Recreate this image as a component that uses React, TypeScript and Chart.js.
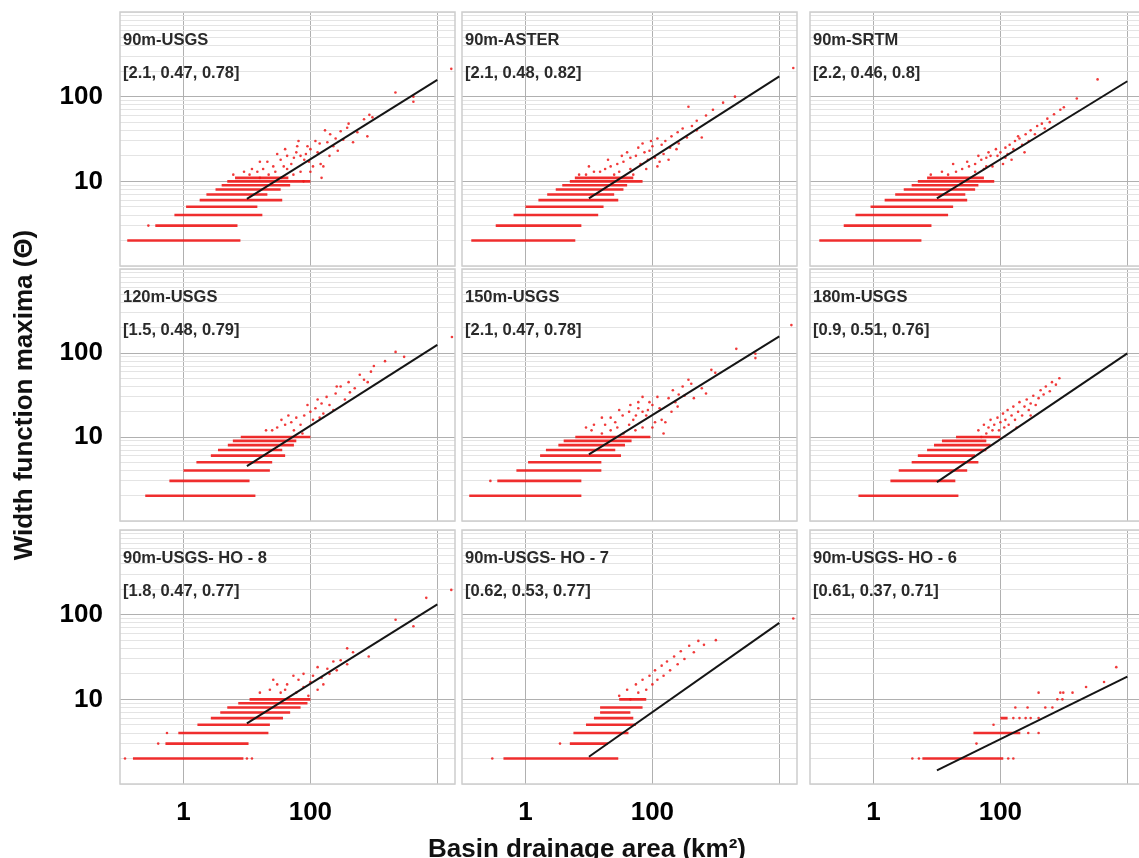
import React, { useEffect, useRef } from 'react';
import { Chart, registerables } from 'chart.js';

Chart.register(...registerables);

type Streak = [number, number, number]; // [y, xStart, xEnd]
type Pt = [number, number]; // [x, y]

const FONT = "'Liberation Sans', Arial, sans-serif";

const panelNames = ['90m-USGS', '90m-ASTER', '90m-SRTM', '120m-USGS', '150m-USGS', '180m-USGS', '90m-USGS- HO - 8', '90m-USGS- HO - 7', '90m-USGS- HO - 6'];
const panelParams = ['[2.1, 0.47, 0.78]', '[2.1, 0.48, 0.82]', '[2.2, 0.46, 0.8]', '[1.5, 0.48, 0.79]', '[2.1, 0.47, 0.78]', '[0.9, 0.51, 0.76]', '[1.8, 0.47, 0.77]', '[0.62, 0.53, 0.77]', '[0.61, 0.37, 0.71]'];

const fitX = [10, 10000];
const fitStartY = [6.2, 6.3, 6.3, 4.5, 6.2, 2.9, 5.2, 2.1, 1.45];
const fitEndY = [158, 174, 152, 125, 158, 99, 132, 80, 18.5];

const xTickValues = [1, 100, 10000];
const xTickLabels = ['1', '100', ''];
const yGridValues = [1, 2, 3, 4, 5, 6, 7, 8, 9, 10, 20, 30, 40, 50, 60, 70, 80, 90, 100, 200, 300, 400, 500, 600, 700, 800, 900, 1000];
const yLabelValues = [10, 100];
const yLabelTexts = ['10', '100'];

const streaksUsgs90: Streak[] = [[2, 0.13, 7.9], [3, 0.36, 7.1], [4, 0.72, 17.5], [5, 1.1, 14.6], [6, 1.8, 36], [7, 2.3, 21], [8, 3.2, 34], [9, 4.0, 48], [10, 4.9, 100], [11, 6.5, 45]];
const pointsUsgs90: Pt[] = [[0.28, 3], [16600, 213], [2190, 112], [4200, 100], [4200, 87], [850, 61], [950, 57], [700, 54], [400, 48], [380, 43], [550, 38], [790, 34], [300, 39], [170, 40], [330, 31], [205, 36], [470, 29], [230, 26], [185, 29], [250, 32], [120, 30], [65, 30], [90, 26], [62, 26], [100, 24], [40, 24], [130, 22], [60, 22], [270, 23], [70, 20], [43, 20], [200, 20], [34, 18], [80, 18], [21, 17], [16, 17], [145, 16], [160, 15], [110, 15], [26, 15], [50, 16], [43, 14], [18, 14], [12, 14], [70, 13], [100, 13], [14.6, 13], [9, 13], [28, 13], [6.1, 12], [22, 12], [11, 12], [54, 12], [150, 11], [35, 11], [16, 11], [78, 10], [30, 21], [55, 19], [85, 21], [140, 28], [95, 17], [38, 15]];

const streaksAster90: Streak[] = [[2, 0.14, 6.1], [3, 0.34, 7.6], [4, 0.65, 14], [5, 1.0, 17], [6, 1.6, 29], [7, 2.2, 25], [8, 3.0, 35], [9, 3.8, 40], [10, 5, 70], [11, 6, 50]];
const pointsAster90: Pt[] = [[16600, 218], [370, 76], [2000, 100], [1300, 85], [900, 70], [700, 60], [500, 52], [420, 45], [300, 42], [250, 38], [200, 34], [350, 33], [160, 30], [140, 27], [120, 32], [100, 26], [90, 23], [75, 22], [60, 25], [55, 20], [45, 19], [40, 22], [35, 17], [28, 16], [22, 15], [18, 14], [15, 13], [12, 13], [9, 12], [30, 13], [45, 14], [65, 16], [85, 18], [110, 19], [150, 21], [190, 25], [260, 28], [500, 40], [600, 33], [80, 14], [120, 15], [25, 12], [50, 12], [7, 12], [10, 15], [20, 18], [180, 18], [240, 24], [70, 28], [130, 17], [33, 20], [95, 30]];

const streaksSrtm90: Streak[] = [[2, 0.14, 5.7], [3, 0.34, 8.2], [4, 0.52, 15], [5, 0.9, 18], [6, 1.5, 30], [7, 2.2, 28], [8, 3, 40], [9, 4, 45], [10, 5, 80], [11, 7, 55]];
const pointsSrtm90: Pt[] = [[3400, 160], [1600, 95], [1000, 75], [880, 70], [700, 62], [550, 55], [450, 48], [380, 45], [300, 40], [250, 36], [200, 32], [170, 30], [140, 27], [120, 25], [100, 22], [85, 24], [70, 20], [60, 19], [50, 18], [40, 16], [32, 15], [25, 14], [20, 13], [15, 12], [12, 13], [30, 17], [45, 20], [65, 22], [90, 20], [130, 21], [160, 24], [220, 27], [280, 30], [350, 36], [500, 42], [600, 50], [75, 15], [110, 16], [150, 18], [40, 13], [55, 14], [8, 12], [18, 16], [240, 22], [120, 19], [60, 15], [190, 34]];

const streaksUsgs120: Streak[] = [[2, 0.25, 13.6], [3, 0.6, 11], [4, 1.0, 23], [5, 1.6, 25], [6, 2.7, 40], [7, 3.5, 36], [8, 5, 55], [9, 6, 60], [10, 8, 100]];
const pointsUsgs120: Pt[] = [[17000, 155], [2200, 103], [1500, 80], [900, 60], [600, 55], [400, 45], [300, 40], [250, 33], [180, 30], [150, 25], [120, 22], [100, 20], [80, 18], [60, 17], [50, 15], [40, 14], [30, 13], [25, 12], [70, 14], [110, 16], [200, 24], [350, 28], [500, 38], [130, 28], [90, 24], [45, 18], [20, 12], [35, 16], [160, 19], [700, 48], [1000, 70], [3000, 90], [55, 12], [75, 11], [140, 17], [230, 21], [420, 34], [260, 40], [800, 45]];

const streaksUsgs150: Streak[] = [[2, 0.13, 7.6], [3, 0.36, 7.6], [4, 0.72, 15.7], [5, 1.1, 15.7], [6, 1.7, 32], [7, 2.1, 26], [8, 3.3, 37], [9, 4, 47], [10, 6.1, 93]];
const pointsUsgs150: Pt[] = [[0.28, 3], [15500, 215], [2100, 112], [4200, 87], [4200, 98], [850, 63], [980, 58], [370, 48], [410, 43], [700, 33], [600, 38], [300, 40], [320, 31], [210, 36], [450, 29], [230, 26], [180, 29], [260, 32], [120, 30], [70, 30], [90, 26], [60, 26], [100, 24], [45, 24], [130, 22], [60, 22], [250, 23], [70, 20], [43, 20], [200, 20], [34, 18], [80, 18], [22, 17], [16, 17], [140, 16], [160, 15], [110, 15], [26, 15], [50, 16], [43, 14], [18, 14], [12, 14], [70, 13], [100, 13], [9, 13], [28, 13], [22, 12], [11, 12], [54, 12], [150, 11], [35, 11], [16, 11], [30, 21], [85, 21], [55, 18]];

const streaksUsgs180: Streak[] = [[2, 0.58, 21.8], [3, 1.85, 19.5], [4, 2.5, 30], [5, 4, 45], [6, 5, 40], [7, 7, 60], [8, 9, 70], [9, 12, 60], [10, 20, 100]];
const pointsUsgs180: Pt[] = [[45, 12], [50, 10], [55, 14], [60, 11], [65, 13], [70, 16], [75, 12], [80, 14], [90, 17], [95, 12], [100, 15], [110, 19], [115, 13], [120, 16], [130, 21], [135, 14], [150, 18], [160, 23], [170, 16], [190, 20], [200, 26], [220, 18], [240, 23], [260, 28], [280, 21], [300, 25], [330, 31], [360, 24], [400, 29], [430, 36], [480, 32], [520, 40], [600, 35], [650, 45], [750, 42], [850, 50], [300, 18], [180, 13]];

const streaksHo8: Streak[] = [[2, 0.16, 8.8], [3, 0.52, 10.6], [4, 0.83, 21.8], [5, 1.66, 23], [6, 2.7, 37], [7, 3.8, 48], [8, 4.9, 70], [9, 7.3, 90], [10, 11, 100]];
const pointsHo8: Pt[] = [[0.12, 2], [10, 2], [12, 2], [0.4, 3], [0.55, 4], [16600, 196], [6700, 158], [2200, 87], [4200, 73], [830, 32], [380, 40], [470, 36], [380, 26], [300, 29], [230, 28], [130, 24], [185, 23], [110, 19], [78, 20], [65, 17], [54, 19], [43, 15], [30, 15], [26, 17], [23, 13], [16, 12], [34, 12], [78, 14], [93, 11], [130, 13], [160, 15], [200, 20], [150, 18], [60, 12], [40, 13], [100, 16], [260, 22]];

const streaksHo7: Streak[] = [[2, 0.45, 29], [3, 5, 20], [4, 5.7, 42], [5, 9, 55], [6, 12, 50], [7, 15, 45], [8, 15, 70], [10, 30, 80]];
const pointsHo7: Pt[] = [[16600, 90], [0.3, 2], [3.5, 3], [30, 11], [40, 13], [45, 10], [55, 15], [60, 12], [70, 17], [80, 13], [90, 19], [100, 15], [110, 22], [120, 17], [140, 25], [150, 19], [170, 28], [190, 22], [220, 32], [250, 26], [280, 37], [320, 30], [380, 43], [450, 36], [530, 49], [650, 44], [1000, 50]];

const streaksHo6: Streak[] = [[2, 5.9, 111], [4, 37.6, 206], [6, 100, 130]];
const pointsHo6: Pt[] = [[4.1, 2], [5.2, 2], [133, 2], [160, 2], [42, 3], [275, 4], [400, 4], [78, 5], [160, 6], [200, 6], [250, 6], [300, 6], [400, 6], [172, 8], [268, 8], [510, 8], [660, 8], [790, 10], [950, 10], [400, 12], [880, 12], [980, 12], [1370, 12], [2240, 14], [4300, 16], [6700, 24]];

const panelStreaks = [streaksUsgs90, streaksAster90, streaksSrtm90, streaksUsgs120, streaksUsgs150, streaksUsgs180, streaksHo8, streaksHo7, streaksHo6];
const panelPoints = [pointsUsgs90, pointsAster90, pointsSrtm90, pointsUsgs120, pointsUsgs150, pointsUsgs180, pointsHo8, pointsHo7, pointsHo6];

const COL_LEFT = [120, 462, 810];
const ROW_TOP = [12, 269, 530];
const ROW_H = [254, 252, 254];
const PANEL_W = 335;
const PAGE_W = 1139;
const PAGE_H = 858;

const RED = 'rgba(238,24,24,0.85)';
const MAJOR_GRID = '#b0b0b0';
const MINOR_GRID = '#e4e4e4';
const FRAME = '#cdcdcd';

const decorPlugin = {
  id: 'decor',
  beforeDatasetsDraw(chart: any) {
    const { ctx, chartArea: a } = chart;
    ctx.save();
    ctx.strokeStyle = FRAME;
    ctx.lineWidth = 1.5;
    ctx.strokeRect(a.left, a.top, a.right - a.left, a.bottom - a.top);
    ctx.restore();
  },
  afterDraw(chart: any, _args: any, opts: any) {
    const { ctx, chartArea: a } = chart;
    ctx.save();
    ctx.fillStyle = '#2a2a2a';
    ctx.font = `bold 16.5px ${FONT}`;
    ctx.textBaseline = 'middle';
    ctx.textAlign = 'left';
    ctx.fillText(opts.name, a.left + 3, a.top + 28);
    ctx.fillText(opts.params, a.left + 3, a.top + 61);
    if (opts.xTitle) {
      ctx.fillStyle = '#111';
      ctx.font = `bold 26px ${FONT}`;
      ctx.textAlign = 'center';
      ctx.textBaseline = 'alphabetic';
      ctx.fillText(opts.xTitle, opts.xTitleX, opts.xTitleY);
    }
    ctx.restore();
  },
};

function Panel({ i }: { i: number }) {
  const ref = useRef<HTMLCanvasElement>(null);
  const r = Math.floor(i / 3);
  const c = i % 3;
  const hasYTitle = r === 1 && c === 0;
  const hasXTitle = r === 2 && c === 1;
  const left = c === 0 ? 0 : hasXTitle ? 400 : COL_LEFT[c] - 4;
  const top = hasYTitle ? 190 : ROW_TOP[r] - 4;
  const right = COL_LEFT[c] + PANEL_W + 4;
  const bottom = r === 2 ? PAGE_H : hasYTitle ? 610 : ROW_TOP[r] + ROW_H[r] + 4;
  const w = right - left;
  const h = bottom - top;
  const yAxisW = COL_LEFT[c] - left;
  const xAxisH = bottom - (ROW_TOP[r] + ROW_H[r]);
  const padTop = ROW_TOP[r] - top;

  useEffect(() => {
    const streakData: any[] = [];
    panelStreaks[i].forEach(([y, x0, x1]) => {
      streakData.push({ x: x0, y }, { x: x1, y }, { x: x1, y: null });
    });
    const chart = new Chart(ref.current as HTMLCanvasElement, {
      type: 'scatter',
      data: {
        datasets: [
          {
            data: [
              { x: fitX[0], y: fitStartY[i] },
              { x: fitX[1], y: fitEndY[i] },
            ],
            showLine: true,
            borderColor: '#151515',
            borderWidth: 2,
            pointRadius: 0,
          } as any,
          {
            data: panelPoints[i].map(([x, y]) => ({ x, y })),
            pointRadius: 1.3,
            backgroundColor: RED,
            borderWidth: 0,
          },
          {
            data: streakData,
            showLine: true,
            spanGaps: false,
            borderColor: 'rgba(238,24,24,0.9)',
            borderWidth: 2.6,
            pointRadius: 0,
          } as any,
        ],
      },
      options: {
        animation: false,
        responsive: false,
        devicePixelRatio: 1,
        layout: { padding: { left: 0, top: padTop, right: 4, bottom: 0 } },
        plugins: {
          legend: { display: false },
          tooltip: { enabled: false },
          decor: {
            name: panelNames[i],
            params: panelParams[i],
            xTitle: hasXTitle ? 'Basin drainage area (km²)' : '',
            xTitleX: 587 - left,
            xTitleY: 857 - top,
          },
        } as any,
        scales: {
          x: {
            type: 'logarithmic',
            min: 0.1,
            max: 19000,
            bounds: 'data',
            afterBuildTicks: (s: any) => {
              s.ticks = xTickValues.map((v) => ({ value: v }));
            },
            afterFit: (s: any) => {
              s.height = xAxisH;
              s.paddingLeft = 0;
              s.paddingRight = 0;
            },
            ticks: {
              display: r === 2,
              autoSkip: false,
              maxRotation: 0,
              padding: 13,
              color: '#000',
              font: { family: FONT, size: 26, weight: 'bold' },
              callback: (v: any) => {
                const k = xTickValues.indexOf(Number(v));
                return k >= 0 ? xTickLabels[k] : '';
              },
            },
            grid: { color: MAJOR_GRID, drawTicks: false, lineWidth: 1 },
            border: { display: false },
          },
          y: {
            type: 'logarithmic',
            min: 1,
            max: 1000,
            bounds: 'data',
            afterBuildTicks: (s: any) => {
              s.ticks = yGridValues.map((v) => ({ value: v }));
            },
            afterFit: (s: any) => {
              s.width = yAxisW;
              s.paddingTop = 0;
              s.paddingBottom = 0;
            },
            title: {
              display: hasYTitle,
              text: 'Width function maxima (Θ)',
              color: '#111',
              font: { family: FONT, size: 26, weight: 'bold' },
              padding: { top: 9, bottom: 0 },
            },
            ticks: {
              display: c === 0,
              autoSkip: false,
              padding: 17,
              color: '#000',
              font: { family: FONT, size: 26, weight: 'bold' },
              callback: (v: any) => {
                const k = yLabelValues.indexOf(Number(v));
                return k >= 0 ? yLabelTexts[k] : '';
              },
            },
            grid: {
              drawTicks: false,
              lineWidth: 1,
              color: (ctx: any) => {
                const v = ctx.tick ? ctx.tick.value : 0;
                return yLabelValues.indexOf(v) >= 0 ? MAJOR_GRID : MINOR_GRID;
              },
            },
            border: { display: false },
          },
        },
      } as any,
      plugins: [decorPlugin],
    });
    return () => chart.destroy();
  }, []);

  return (
    <canvas
      ref={ref}
      width={w}
      height={h}
      style={{ position: 'absolute', left, top, width: w, height: h, display: 'block' }}
    />
  );
}

export default function App() {
  const idx = [0, 1, 2, 3, 4, 5, 6, 7, 8];
  return (
    <div
      style={{
        position: 'fixed',
        left: 0,
        top: 0,
        width: PAGE_W,
        height: PAGE_H,
        overflow: 'hidden',
        background: '#fff',
      }}
    >
      {idx.map((i) => (
        <Panel key={i} i={i} />
      ))}
    </div>
  );
}
